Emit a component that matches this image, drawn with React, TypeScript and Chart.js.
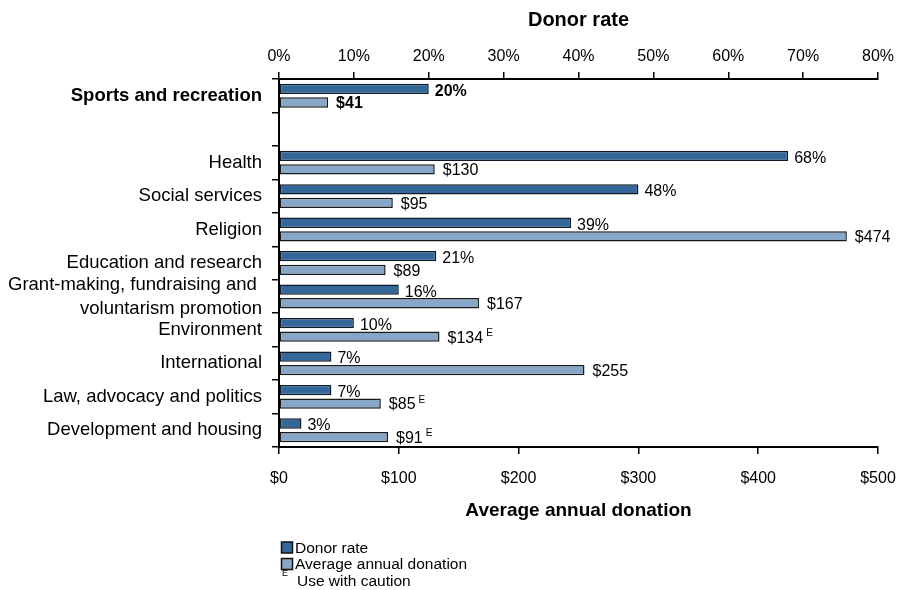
import React, { useEffect, useRef } from 'react';
import { Chart, registerables } from 'chart.js';

Chart.register(...registerables);

const FONT = '"Liberation Sans", Arial, Helvetica, sans-serif';

const categories: (string | string[])[] = [
  'Sports and recreation',
  '',
  'Health',
  'Social services',
  'Religion',
  'Education and research',
  ['Grant-making, fundraising and ', 'voluntarism promotion'],
  'Environment',
  'International',
  'Law, advocacy and politics',
  'Development and housing',
];

const donorRate: (number | null)[] = [20, null, 68, 48, 39, 21, 16, 10, 7, 7, 3];
const avgDonation: (number | null)[] = [41, null, 130, 95, 474, 89, 167, 134, 255, 85, 91];
const useWithCaution: boolean[] = [false, false, false, false, false, false, false, true, false, true, true];

const rateTickLabels = ['0%', '10%', '20%', '30%', '40%', '50%', '60%', '70%', '80%'];
const donationTickLabels = ['$0', '$100', '$200', '$300', '$400', '$500'];

const DARK = '#336699';
const LIGHT = '#88A6C8';

function drawValueLabels(chart: any, di: number) {
  const ctx: CanvasRenderingContext2D = chart.ctx;
  const meta = chart.getDatasetMeta(di);
  const values = chart.data.datasets[di].data as (number | null)[];
  ctx.save();
  ctx.fillStyle = '#000';
  ctx.textBaseline = 'middle';
  ctx.textAlign = 'left';
  meta.data.forEach((bar: any, i: number) => {
    const v = values[i];
    if (v == null) return;
    const text = di === 0 ? `${v}%` : `$${v}`;
    const bold = i === 0;
    ctx.font = `${bold ? 'bold ' : ''}16px ${FONT}`;
    const x = bar.x + (di === 0 ? 6 : 8);
    const y = bar.y + (di === 0 ? 2.5 : 1.5);
    ctx.fillText(text, x, y);
    if (di === 1 && useWithCaution[i]) {
      const w = ctx.measureText(text).width;
      ctx.font = `10px ${FONT}`;
      ctx.fillText('E', x + w + 3, y - 5);
    }
  });
  ctx.restore();
}

function drawLegend(chart: any) {
  const ctx: CanvasRenderingContext2D = chart.ctx;
  const ds = chart.data.datasets;
  const rows = [547.5, 564];
  ctx.save();
  ctx.textBaseline = 'middle';
  ctx.textAlign = 'left';
  ds.forEach((d: any, i: number) => {
    const cy = rows[i];
    ctx.fillStyle = d.backgroundColor;
    ctx.fillRect(281.5, cy - 5.5, 11, 11);
    ctx.strokeStyle = '#111';
    ctx.lineWidth = 1.5;
    ctx.strokeRect(281.5, cy - 5.5, 11, 11);
    ctx.fillStyle = '#000';
    ctx.font = `15.5px ${FONT}`;
    ctx.fillText(d.label, 295, cy + 1);
  });
  ctx.font = `9px ${FONT}`;
  ctx.fillText('E', 282, 574);
  ctx.font = `15.5px ${FONT}`;
  ctx.fillText('Use with caution', 297, 582);
  ctx.restore();
}

const labelsPlugin = {
  id: 'valueLabels',
  beforeDatasetsDraw(chart: any) {
    drawValueLabels(chart, 0);
  },
  afterDatasetsDraw(chart: any) {
    drawValueLabels(chart, 1);
    drawLegend(chart);
  },
};

export default function App() {
  const canvasRef = useRef<HTMLCanvasElement | null>(null);

  useEffect(() => {
    if (!canvasRef.current) return;
    const chart = new Chart(canvasRef.current, {
      type: 'bar',
      data: {
        labels: categories as any,
        datasets: [
          {
            label: 'Donor rate',
            data: donorRate,
            xAxisID: 'x2',
            yAxisID: 'y',
            backgroundColor: DARK,
            borderColor: '#0f1a26',
            borderWidth: 1.5,
            borderSkipped: false,
            categoryPercentage: 0.81,
            barPercentage: 0.76,
          },
          {
            label: 'Average annual donation',
            data: avgDonation,
            xAxisID: 'x',
            yAxisID: 'y',
            backgroundColor: LIGHT,
            borderColor: '#1a1a1a',
            borderWidth: 1.5,
            borderSkipped: false,
            categoryPercentage: 0.81,
            barPercentage: 0.76,
          },
        ],
      },
      options: {
        indexAxis: 'y',
        animation: false,
        responsive: true,
        maintainAspectRatio: false,
        layout: { padding: { left: 0, right: 19, top: 0, bottom: 0 } },
        plugins: {
          legend: { display: false },
          tooltip: { enabled: false },
        },
        scales: {
          y: {
            type: 'category',
            position: 'left',
            offset: true,
            grid: {
              offset: true,
              drawOnChartArea: false,
              drawTicks: true,
              tickLength: 7,
              color: '#000',
              lineWidth: 1.5,
            },
            border: { display: true, color: '#000', width: 2 },
            ticks: {
              color: '#000',
              padding: 10,
              autoSkip: false,
              font: (c: any) => ({
                family: FONT,
                size: 18.5,
                weight: c.index === 0 ? 'bold' : 'normal',
                lineHeight: 1.3,
              }),
            },
            afterFit: (s: any) => {
              s.width = 279;
              s.paddingTop = 0;
              s.paddingBottom = 0;
            },
          },
          x: {
            type: 'linear',
            position: 'bottom',
            min: 0,
            max: 500,
            ticks: {
              stepSize: 100,
              color: '#000',
              padding: 15,
              font: { family: FONT, size: 16 },
              callback: (_v: any, i: number) => donationTickLabels[i] ?? '',
            },
            grid: { drawOnChartArea: false, tickLength: 7, color: '#000', lineWidth: 1.5 },
            border: { display: true, color: '#000', width: 2 },
            title: {
              display: true,
              text: 'Average annual donation',
              color: '#000',
              font: { family: FONT, size: 19, weight: 'bold' },
              padding: { top: 0, bottom: 68 },
            },
            afterFit: (s: any) => {
              s.height = 143;
              s.paddingLeft = 0;
              s.paddingRight = 0;
            },
          },
          x2: {
            type: 'linear',
            position: 'top',
            min: 0,
            max: 80,
            ticks: {
              stepSize: 10,
              color: '#000',
              padding: 6,
              font: { family: FONT, size: 16 },
              callback: (_v: any, i: number) => rateTickLabels[i] ?? '',
            },
            grid: { drawOnChartArea: false, tickLength: 7, color: '#000', lineWidth: 1.5 },
            border: { display: true, color: '#000', width: 2 },
            title: {
              display: true,
              text: 'Donor rate',
              color: '#000',
              font: { family: FONT, size: 20, weight: 'bold' },
              padding: { top: 8.5, bottom: 0 },
            },
            afterFit: (s: any) => {
              s.height = 79;
              s.paddingLeft = 0;
              s.paddingRight = 0;
            },
          },
        },
      } as any,
      plugins: [labelsPlugin],
    });
    return () => chart.destroy();
  }, []);

  return (
    <div style={{ position: 'absolute', left: 0, top: 0, width: 897, height: 590, background: '#fff' }}>
      <canvas ref={canvasRef} />
    </div>
  );
}
